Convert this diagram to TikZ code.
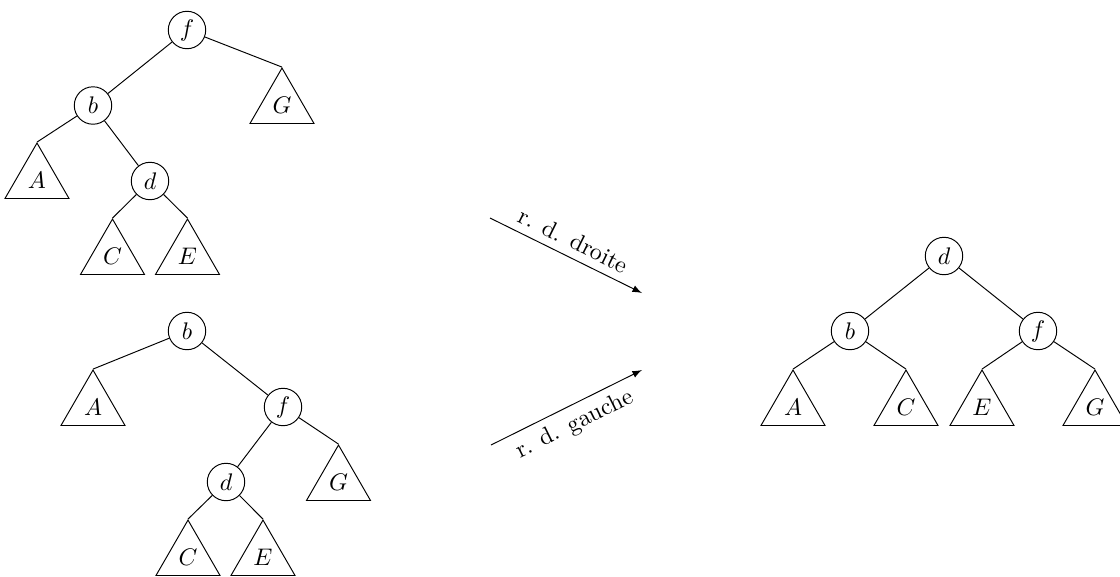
\documentclass[tikz,border=0pt]{standalone}
\usetikzlibrary{shapes.geometric}
\begin{document}
\begin{tikzpicture}[x=0.41667pt, y=-0.41667pt,
  vert/.style={circle, draw, minimum size=15.6pt, inner sep=0pt},
  sub/.style={regular polygon, regular polygon sides=3, draw, minimum size=30.8pt, inner sep=0pt},
  link/.style={draw},
  rot/.style={-latex}]
\useasboundingbox (0,0) rectangle (1120,576);
% tree 1
\node[vert] (f1) at (187,30) {$f$};
\node[vert] (b1) at (93,105.5) {$b$};
\node[sub] (G1) at (282,105) {$G$};
\node[sub] (A1) at (37,180) {$A$};
\node[vert] (d1) at (150,181) {$d$};
\node[sub] (C1) at (112.5,256) {$C$};
\node[sub] (E1) at (187.5,256) {$E$};
\path[link] (f1) -- (b1);
\path[link] (f1) -- (G1.corner 1);
\path[link] (b1) -- (A1.corner 1);
\path[link] (b1) -- (d1);
\path[link] (d1) -- (C1.corner 1);
\path[link] (d1) -- (E1.corner 1);
% tree 2
\node[vert] (b2) at (187,331) {$b$};
\node[sub] (A2) at (93,407) {$A$};
\node[vert] (f2) at (283,407) {$f$};
\node[vert] (d2) at (226,482) {$d$};
\node[sub] (G2) at (338.5,482) {$G$};
\node[sub] (C2) at (188,557) {$C$};
\node[sub] (E2) at (263,557) {$E$};
\path[link] (b2) -- (A2.corner 1);
\path[link] (b2) -- (f2);
\path[link] (f2) -- (d2);
\path[link] (f2) -- (G2.corner 1);
\path[link] (d2) -- (C2.corner 1);
\path[link] (d2) -- (E2.corner 1);
% result tree
\node[vert] (d3) at (944,256) {$d$};
\node[vert] (b3) at (850,331) {$b$};
\node[vert] (f3) at (1038,331) {$f$};
\node[sub] (A3) at (793,407) {$A$};
\node[sub] (C3) at (906,407) {$C$};
\node[sub] (E3) at (982,407) {$E$};
\node[sub] (G3) at (1095,407) {$G$};
\path[link] (d3) -- (b3);
\path[link] (d3) -- (f3);
\path[link] (b3) -- (A3.corner 1);
\path[link] (b3) -- (C3.corner 1);
\path[link] (f3) -- (E3.corner 1);
\path[link] (f3) -- (G3.corner 1);
% arrows
\coordinate (r1s) at (490,218);
\coordinate (r1e) at (642,293);
\coordinate (r2s) at (491,445);
\coordinate (r2e) at (642,370);
\draw[rot] (r1s) -- node[midway, above, sloped] {r. d. droite} (r1e);
\draw[rot] (r2s) -- node[midway, below, sloped] {r. d. gauche} (r2e);
\end{tikzpicture}
\end{document}
